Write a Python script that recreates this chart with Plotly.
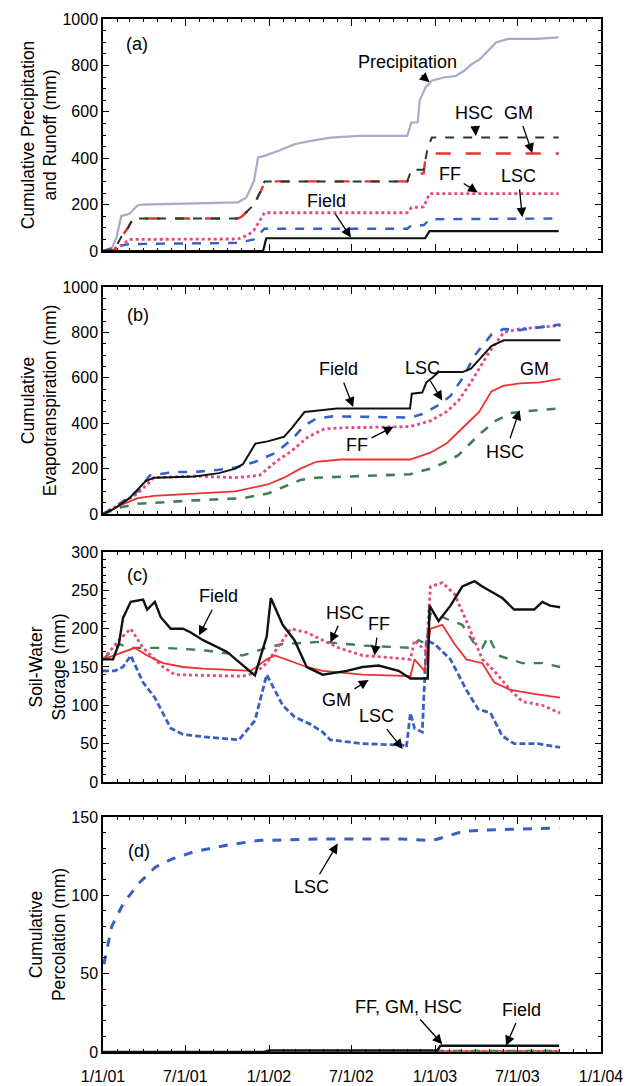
import pandas as pd
import plotly.graph_objects as go
from plotly.subplots import make_subplots

START = pd.Timestamp("2001-01-01")

def dates(days):
    return [(START + pd.Timedelta(days=d)).strftime("%Y-%m-%d") for d in days]

# ---------------- Panel (a): cumulative precipitation and runoff (mm)
a_precip_day = [0, 18, 30, 40, 58, 75, 84, 200, 297, 315, 332, 341, 355, 386, 421, 457, 501, 563, 669, 678, 692, 696, 709, 723, 749, 776, 794, 811, 829, 847, 864, 891, 953, 1002]
a_precip_val = [0, 5, 60, 150, 160, 195, 200, 204, 210, 230, 302, 403, 410, 432, 460, 475, 489, 496, 496, 554, 554, 647, 705, 734, 748, 755, 777, 806, 827, 863, 899, 914, 914, 921]
a_hsc_day = [0, 25, 40, 55, 66, 297, 306, 332, 350, 355, 669, 678, 705, 714, 723, 1002]
a_hsc_val = [0, 5, 60, 100, 140, 140, 150, 200, 270, 300, 300, 350, 350, 446, 489, 489]
a_gm_day = [0, 25, 40, 55, 66, 297, 306, 332, 350, 355, 669, 678, 705, 709, 723, 1002]
a_gm_val = [0, 5, 60, 100, 140, 140, 150, 200, 270, 300, 300, 330, 335, 400, 420, 420]
a_ff_day = [0, 31, 58, 297, 320, 332, 355, 669, 678, 705, 718, 1002]
a_ff_val = [0, 10, 50, 52, 70, 90, 165, 165, 187, 190, 247, 247]
a_lsc_day = [0, 31, 58, 297, 332, 355, 669, 678, 705, 718, 1002]
a_lsc_val = [0, 20, 30, 35, 50, 96, 96, 111, 111, 137, 140]
a_field_day = [0, 352, 359, 708, 718, 1002]
a_field_val = [0, 0, 55, 55, 86, 86]

# ---------------- Panel (b): cumulative evapotranspiration (mm)
b_field_day = [0, 22, 58, 94, 112, 201, 255, 291, 308, 326, 335, 362, 398, 416, 443, 469, 514, 675, 679, 702, 711, 724, 738, 791, 809, 836, 854, 881, 1006]
b_field_val = [0, 20, 70, 145, 160, 165, 180, 200, 220, 283, 310, 320, 340, 380, 449, 455, 465, 465, 530, 535, 580, 600, 625, 625, 640, 700, 740, 765, 765]
b_lsc_day = [0, 40, 76, 103, 156, 201, 255, 291, 335, 380, 416, 443, 469, 505, 675, 702, 738, 764, 791, 818, 854, 881, 916, 952, 1006]
b_lsc_val = [0, 50, 100, 170, 185, 185, 195, 205, 230, 270, 330, 390, 420, 430, 425, 440, 480, 520, 600, 700, 790, 815, 810, 820, 835]
b_ff_day = [0, 76, 112, 201, 291, 344, 380, 416, 451, 487, 532, 675, 720, 755, 782, 809, 845, 881, 916, 1006]
b_ff_val = [0, 90, 160, 167, 160, 170, 230, 280, 340, 375, 380, 385, 410, 450, 500, 580, 700, 800, 815, 830]
b_gm_day = [0, 40, 76, 112, 201, 291, 362, 398, 434, 469, 523, 675, 720, 755, 791, 827, 854, 881, 916, 961, 1006]
b_gm_val = [0, 40, 70, 80, 90, 100, 130, 160, 200, 230, 240, 240, 270, 310, 380, 450, 540, 565, 575, 580, 595]
b_hsc_day = [0, 40, 76, 112, 201, 308, 362, 434, 469, 675, 720, 755, 782, 827, 863, 898, 943, 1006]
b_hsc_val = [0, 30, 45, 50, 60, 70, 90, 150, 160, 175, 200, 230, 260, 350, 410, 445, 455, 465]

# ---------------- Panel (c): soil-water storage (mm)
c_field_day = [0, 22, 35, 44, 61, 88, 97, 114, 127, 149, 176, 193, 220, 272, 334, 360, 369, 395, 421, 448, 483, 536, 571, 606, 650, 676, 714, 718, 738, 764, 790, 817, 834, 878, 904, 948, 966, 983, 1005]
c_field_val = [160, 160, 180, 214, 235, 238, 225, 235, 215, 200, 200, 195, 185, 170, 139, 190, 240, 205, 185, 150, 140, 145, 150, 152, 145, 135, 135, 230, 210, 230, 255, 262, 255, 240, 225, 225, 235, 230, 228]
c_hsc_day = [0, 35, 61, 132, 220, 307, 334, 360, 395, 483, 571, 676, 694, 711, 720, 746, 790, 817, 834, 847, 869, 922, 966, 1005]
c_hsc_val = [160, 180, 175, 175, 172, 165, 170, 175, 180, 183, 178, 175, 185, 180, 220, 215, 205, 180, 175, 190, 165, 155, 155, 150]
c_ff_day = [0, 35, 61, 88, 132, 158, 307, 334, 360, 378, 413, 448, 483, 518, 571, 676, 685, 711, 720, 746, 773, 799, 834, 860, 896, 922, 966, 1005]
c_ff_val = [160, 185, 200, 175, 150, 140, 138, 142, 155, 170, 200, 195, 185, 175, 165, 160, 185, 170, 255, 260, 245, 210, 160, 145, 120, 105, 100, 90]
c_gm_day = [0, 44, 70, 97, 132, 176, 220, 325, 360, 378, 413, 448, 483, 571, 676, 685, 707, 720, 746, 773, 799, 834, 860, 896, 948, 1005]
c_gm_val = [160, 170, 175, 165, 155, 150, 148, 145, 160, 165, 158, 150, 145, 140, 138, 160, 145, 200, 205, 180, 160, 155, 130, 120, 115, 110]
c_lsc_day = [0, 26, 44, 61, 88, 114, 149, 176, 237, 299, 334, 360, 395, 421, 457, 483, 500, 571, 659, 667, 676, 685, 702, 711, 729, 764, 799, 825, 852, 878, 904, 957, 1005]
c_lsc_val = [145, 145, 150, 165, 130, 110, 70, 62, 58, 55, 80, 140, 100, 85, 75, 65, 55, 50, 48, 45, 90, 70, 65, 185, 180, 160, 120, 95, 90, 60, 50, 50, 45]

# ---------------- Panel (d): cumulative percolation (mm)
d_lsc_day = [2, 19, 45, 80, 115, 150, 202, 272, 341, 481, 655, 725, 760, 794, 873, 1003]
d_lsc_val = [56, 80, 95, 108, 118, 123, 128, 132, 135, 136, 136, 135, 138, 141, 142, 143]
d_field_day = [0, 355, 365, 735, 742, 1003]
d_field_val = [0, 0, 1, 1, 4, 4]
d_ff_day = [730, 1003]
d_ff_val = [0.3, 0.3]
d_gm_day = [730, 1003]
d_gm_val = [0.6, 0.6]
d_hsc_day = [730, 1003]
d_hsc_val = [0.9, 0.9]

# ---------------- styles
C_FIELD = "#111111"
C_LSC = "#3a5fc4"
C_FF = "#e8467c"
C_GM = "#ee3030"
C_HSC = "#3f7f52"
C_PREC = "#a9a9c9"
FONT = "Liberation Sans, Arial, sans-serif"
TXT = 18

fig = make_subplots(rows=4, cols=1, shared_xaxes=False, vertical_spacing=0.0)

def add(row, days, vals, color, dash="solid", width=2.0):
    fig.add_trace(go.Scatter(x=dates(days), y=vals, mode="lines",
                             line=dict(color=color, dash=dash, width=width),
                             showlegend=False, hoverinfo="skip"), row=row, col=1)

# (a)
add(1, a_precip_day, a_precip_val, C_PREC, "solid", 2.2)
add(1, a_lsc_day, a_lsc_val, C_LSC, "dash", 2.4)
add(1, a_ff_day, a_ff_val, C_FF, "dot", 2.8)
add(1, a_gm_day, a_gm_val, C_GM, "longdash", 2.4)
add(1, a_hsc_day, a_hsc_val, "#1f3f2a", "dash", 2.0)
add(1, a_field_day, a_field_val, C_FIELD, "solid", 2.2)
# (b)
add(2, b_hsc_day, b_hsc_val, C_HSC, "dash", 2.6)
add(2, b_gm_day, b_gm_val, C_GM, "solid", 1.8)
add(2, b_ff_day, b_ff_val, C_FF, "dot", 2.8)
add(2, b_lsc_day, b_lsc_val, C_LSC, "dash", 2.6)
add(2, b_field_day, b_field_val, C_FIELD, "solid", 2.0)
# (c)
add(3, c_lsc_day, c_lsc_val, C_LSC, "6px,3px", 2.8)
add(3, c_hsc_day, c_hsc_val, C_HSC, "dash", 2.4)
add(3, c_ff_day, c_ff_val, C_FF, "dot", 2.8)
add(3, c_gm_day, c_gm_val, C_GM, "solid", 1.8)
add(3, c_field_day, c_field_val, C_FIELD, "solid", 2.4)
# (d)
add(4, d_ff_day, d_ff_val, C_FF, "dot", 2.4)
add(4, d_gm_day, d_gm_val, C_GM, "solid", 1.5)
add(4, d_hsc_day, d_hsc_val, C_HSC, "dash", 1.5)
add(4, d_field_day, d_field_val, C_FIELD, "solid", 2.4)
add(4, d_lsc_day, d_lsc_val, C_LSC, "dash", 3.0)

domains = [(0.7754, 1.0), (0.5208, 0.7406), (0.2614, 0.4840), (0.0, 0.2275)]
yranges = [[0, 1000], [0, 1000], [0, 300], [0, 150]]
ydticks = [200, 200, 50, 50]
yminor = [50, 50, 10, 10]
ytitles = ["Cumulative Precipitation<br>and Runoff (mm)",
           "Cumulative<br>Evapotranspiration (mm)",
           "Soil-Water<br>Storage (mm)",
           "Cumulative<br>Percolation (mm)"]

for i in range(4):
    r = i + 1
    fig.update_yaxes(row=r, col=1, domain=list(domains[i]), range=yranges[i], dtick=ydticks[i],
                     showline=True, linecolor="black", linewidth=1.5, mirror="ticks",
                     ticks="inside", ticklen=6, tickwidth=1.2, tickcolor="black",
                     minor=dict(dtick=yminor[i], ticks="inside", ticklen=3, tickcolor="black", tickwidth=1),
                     showgrid=False, zeroline=False, automargin=False,
                     tickfont=dict(family=FONT, size=16, color="black"),
                     title=dict(text=ytitles[i], font=dict(family=FONT, size=17.5, color="black"), standoff=1))
    fig.update_xaxes(row=r, col=1, type="date", range=["2001-01-01", "2004-01-01"],
                     dtick="M6", tick0="2001-01-01", tickformat="%-m/%-d/%y",
                     showline=True, linecolor="black", linewidth=1.5, mirror="ticks",
                     ticks="inside", ticklen=7, tickwidth=1.2, tickcolor="black",
                     minor=dict(dtick="M1", ticks="inside", ticklen=3, tickcolor="black", tickwidth=1),
                     showgrid=False, zeroline=False, showticklabels=(r == 4), automargin=False,
                     ticklabelstandoff=9,
                     tickfont=dict(family=FONT, size=16, color="black"))

def note(row, text, day, val, hday=None, hval=None):
    xr = "x" if row == 1 else f"x{row}"
    yr = "y" if row == 1 else f"y{row}"
    d = dict(text=text, font=dict(family=FONT, size=TXT, color="black"), xref=xr, yref=yr)
    if hday is None:
        d.update(x=dates([day])[0], y=val, showarrow=False)
    else:
        d.update(x=dates([hday])[0], y=hval, ax=dates([day])[0], ay=val, axref=xr, ayref=yr,
                 showarrow=True, arrowhead=2, arrowsize=1.5, arrowwidth=1.3, arrowcolor="black",
                 standoff=0, startstandoff=2)
    fig.add_annotation(**d)

# (a)
note(1, "(a)", 75, 892)
note(1, "Precipitation", 669, 813, 718, 727)
note(1, "HSC", 816, 597, 820, 496)
note(1, "GM", 913, 597, 944, 422)
note(1, "FF", 762, 331, 824, 252)
note(1, "LSC", 913, 324, 922, 145)
note(1, "Field", 492, 216, 545, 58)
# (b)
note(2, "(b)", 76, 877)
note(2, "Field", 518, 638, 550, 471)
note(2, "LSC", 702, 645, 746, 500)
note(2, "GM", 948, 638, 948, 572)
note(2, "FF", 559, 304, 639, 384)
note(2, "HSC", 885, 275, 916, 457)
# (c)
note(3, "(c)", 75, 270)
note(3, "Field", 255, 242, 211, 191)
note(3, "HSC", 531, 221, 500, 182)
note(3, "FF", 606, 206, 597, 165)
note(3, "GM", 514, 107, 584, 133)
note(3, "LSC", 601, 86, 659, 43)
# (d)
note(4, "(d)", 80, 128)
note(4, "LSC", 459, 105, 516, 133)
note(4, "FF, GM, HSC", 672, 29, 746, 5)
note(4, "Field", 921, 27, 886, 4)

fig.update_layout(width=628, height=1086, margin=dict(l=103, r=27, t=19, b=34),
                  paper_bgcolor="white", plot_bgcolor="white", showlegend=False,
                  font=dict(family=FONT, color="black"))

fig.write_html("out.html", config={"displayModeBar": False},
               post_script="document.body.style.margin='0px';document.body.style.overflow='hidden';")
